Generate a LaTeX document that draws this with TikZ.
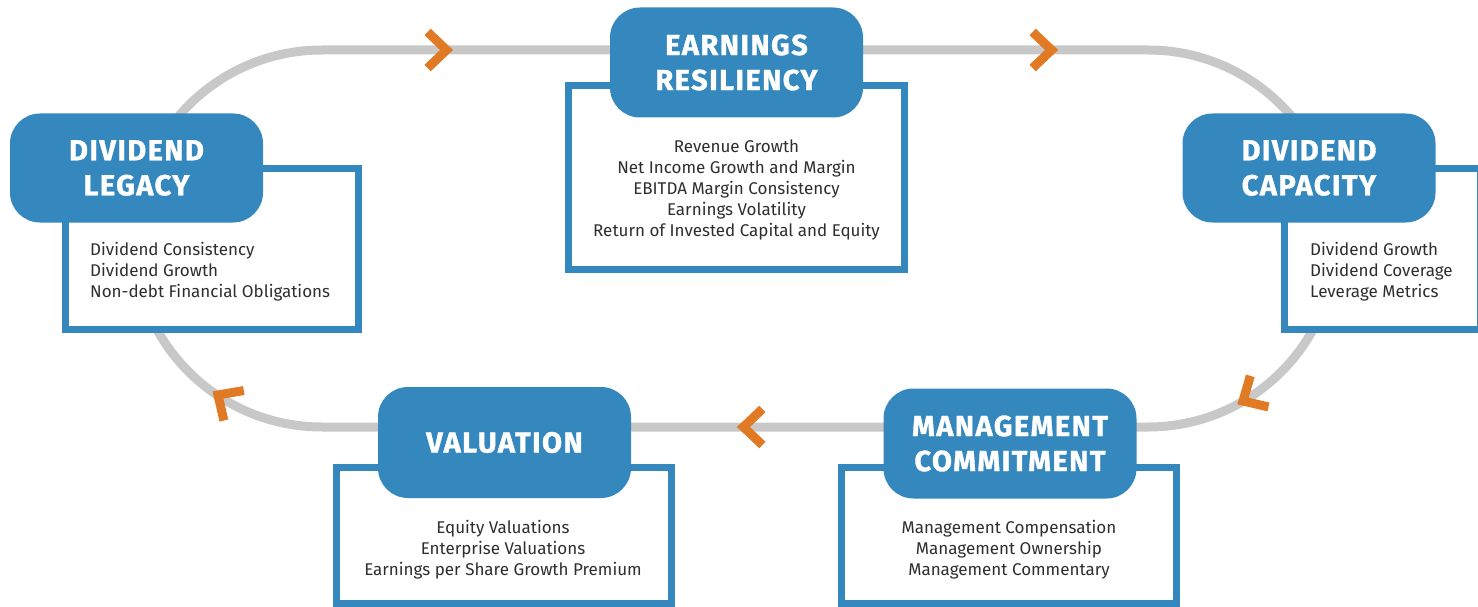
\documentclass[tikz,border=0pt]{standalone}
\usepackage{fontspec}
\setmainfont{Fira Sans}
\newfontfamily\hdrfont[LetterSpace=5, FakeBold=1.2]{Fira Sans}
\definecolor{hblue}{HTML}{3588BD}
\definecolor{bodygray}{HTML}{2E2E2E}
\definecolor{trackgray}{HTML}{C8C8C8}
\definecolor{chevorange}{HTML}{E07A25}
\tikzset{
  hdr/.style={rectangle, rounded corners=30pt, fill=hblue, text=white,
    minimum width=253pt, minimum height=109pt, align=center, inner sep=0pt,
    font=\hdrfont\bfseries\fontsize{29}{35}\selectfont},
  infobox/.style={rectangle, draw=hblue, line width=7pt, fill=white, inner sep=0pt, outer sep=0pt},
  bodytext/.style={font=\fontsize{17}{21}\selectfont, text=bodygray, inner sep=0pt},
  track/.style={draw=trackgray, line width=9pt},
  chev/.style={draw=chevorange, line width=9pt, miter limit=10},
}
\begin{document}
\begin{tikzpicture}[x=1pt, y=-1pt]
\useasboundingbox (0,0) rectangle (1478,607);
% track loop
\draw[track, rounded corners=188.5pt] (133.5,50) rectangle (1336.5,427);
% chevrons
\draw[chev, shift={(446.6,50)}] (-19,-18) -- (0,0) -- (-19,18);
\draw[chev, shift={(1051.6,50)}] (-19,-18) -- (0,0) -- (-19,18);
\draw[chev, shift={(1243,401)}, rotate=210.3] (-19,-18) -- (0,0) -- (-19,18);
\draw[chev, shift={(743.4,427)}, rotate=180] (-19,-18) -- (0,0) -- (-19,18);
\draw[chev, shift={(218,395)}, rotate=146.4] (-19,-18) -- (0,0) -- (-19,18);
% boxes
\node[infobox, minimum width=293pt, minimum height=161pt] (legacybox) at (212,249) {};
\node[infobox, minimum width=336pt, minimum height=184pt] (earnbox) at (736.5,177.5) {};
\node[infobox, minimum width=196pt, minimum height=161pt] (capbox) at (1382.5,249) {};
\node[infobox, minimum width=335pt, minimum height=136pt] (valbox) at (504,535.5) {};
\node[infobox, minimum width=335pt, minimum height=136pt] (mgmtbox) at (1009,535.5) {};
% box texts
\node[bodytext, align=left, anchor=north west] (legacytxt) at (90,242.5) {Dividend Consistency\\Dividend Growth\\Non-debt Financial Obligations};
\node[bodytext, align=center, anchor=north] (earntxt) at (736.5,139.5) {Revenue Growth\\Net Income Growth and Margin\\EBITDA Margin Consistency\\Earnings Volatility\\Return of Invested Capital and Equity};
\node[bodytext, align=left, anchor=north west] (captxt) at (1310,242.5) {Dividend Growth\\Dividend Coverage\\Leverage Metrics};
\node[bodytext, align=center, anchor=north] (valtxt) at (503,520.5) {Equity Valuations\\Enterprise Valuations\\Earnings per Share Growth Premium};
\node[bodytext, align=center, anchor=north] (mgmttxt) at (1009,520.5) {Management Compensation\\Management Ownership\\Management Commentary};
% headers
\node[hdr] (legacy) at (136.5,168) {DIVIDEND\\LEGACY};
\node[hdr, minimum height=110pt] (earn) at (736.5,62.5) {EARNINGS\\RESILIENCY};
\node[hdr] (cap) at (1309,168) {DIVIDEND\\CAPACITY};
\node[hdr, minimum height=111pt] (val) at (504.5,442.5) {VALUATION};
\node[hdr, minimum height=110pt] (mgmt) at (1010,443.5) {MANAGEMENT\\COMMITMENT};
\end{tikzpicture}
\end{document}
